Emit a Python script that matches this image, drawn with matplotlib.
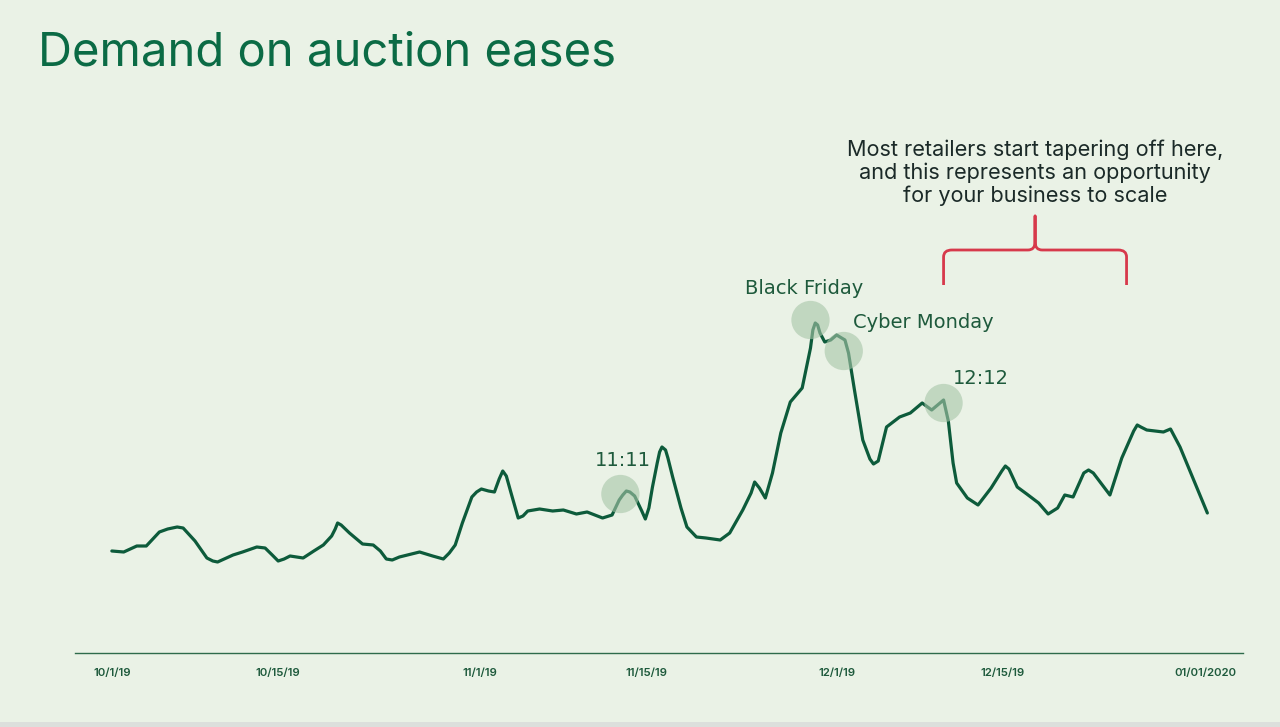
import matplotlib
matplotlib.use("Agg")
import matplotlib.pyplot as plt
from matplotlib.path import Path
from matplotlib.patches import PathPatch, Rectangle

# Demand index (days since 10/1/19, relative level)
days = [0, 1, 2.1, 2.9, 4, 4.7, 5.5, 6, 7, 8, 8.5, 8.9, 10.2, 11, 12.2, 12.9,
        13.5, 14, 14.5, 15, 16.1, 17, 17.8, 18.5, 18.8, 19, 19.3, 20, 21.1,
        22, 22.6, 23.1, 23.6, 24.2, 25.9, 27, 27.9, 28.4, 28.9, 29.5, 30.3,
        30.7, 31.1, 31.4, 31.7, 32.2, 32.6, 32.9, 33.2, 33.6, 34.2, 34.6, 35,
        36, 37.1, 38, 39.1, 40, 41.3, 42.1, 42.7, 43.0, 43.3, 43.6, 44, 44.6,
        44.9, 45.2, 45.5, 45.9, 46.1, 46.3, 46.6, 46.8, 47.2, 47.9, 48.4, 49.2,
        50, 51.2, 52, 53.1, 53.8, 54.1, 54.5, 55, 55.6, 56.3, 57.1, 58.1, 58.8,
        59.0, 59.2, 59.4, 59.6, 60, 60.5, 61, 61.7, 62, 62.5, 63.2, 63.8, 64.1,
        64.5, 65.2, 66.3, 67.2, 68.2, 69, 70, 70.4, 70.8, 71.1, 72, 72.9, 74,
        74.9, 75.2, 75.5, 76.2, 77, 78, 78.8, 79.6, 80.2, 80.9, 81.8, 82.2, 82.6,
        84, 85, 86.0, 86.3, 86.6, 87.1, 88.5, 89.1, 89.9, 90.6, 91.3, 92.2]
demand = [102, 101, 107, 107, 121, 124, 126, 125, 112, 95, 92, 91, 98, 101,
          106, 105, 98, 92, 94, 97, 95, 102, 108, 117, 124, 130, 128, 120, 109,
          108, 102, 94, 93, 96, 101, 97, 94, 100, 108, 130, 156, 161, 164, 163,
          162, 161, 174, 182, 177, 160, 135, 137, 142, 144, 142, 143, 139, 141,
          135, 138, 153, 158, 162, 161, 157, 142, 134, 145, 166, 190, 201, 206,
          203, 195, 176, 145, 126, 116, 115, 113, 120, 143, 160, 171, 165, 155,
          180, 220, 251, 265, 305, 323, 330, 328, 320, 311, 313, 318, 313, 300,
          263, 213, 194, 189, 192, 226, 236, 240, 250, 243, 253, 232, 190, 170,
          155, 148, 165, 182, 187, 184, 166, 159, 150, 139, 145, 158, 156, 180,
          183, 180, 158, 195, 222, 228, 226, 223, 221, 224, 206, 186, 166, 140]

tick_days = [0, 14, 31, 45, 61, 75, 92]
tick_labels = ["10/1/19", "10/15/19", "11/1/19", "11/15/19", "12/1/19", "12/15/19", "01/01/2020"]

# highlighted events
event_days = [42.8, 58.8, 61.6, 70.0]
event_levels = [159, 333, 302, 250]
event_names = ["11:11", "Black Friday", "Cyber Monday", "12:12"]

bg = "#EAF2E6"
dark_green = "#0D5B3B"
text_green = "#1E5A3C"

fig = plt.figure(figsize=(12.8, 7.27), dpi=100, facecolor=bg)
ax = fig.add_axes([75 / 1280, 1 - 653 / 727, (1243 - 75) / 1280, 553 / 727])
ax.set_facecolor(bg)

ax.plot(days, demand, color=dark_green, lw=2.3, solid_capstyle="round",
        solid_joinstyle="round", zorder=2)
ax.scatter(event_days, event_levels, s=760, color="#A7C5A8", alpha=0.6,
           edgecolor="none", zorder=3)

# event labels
lab = dict(va="center", fontsize=14, color=text_green, family="DejaVu Sans")
ax.text(43.0, 193, event_names[0], ha="center", **lab)
ax.text(58.3, 364, event_names[1], ha="center", **lab)
ax.text(62.4, 330, event_names[2], ha="left", **lab)
ax.text(70.8, 274, event_names[3], ha="left", **lab)

ax.set_xlim(-3.1, 95.2)
ax.set_ylim(0, 553)
ax.set_xticks(tick_days)
ax.set_xticklabels(tick_labels, fontsize=8.2, color=text_green, fontweight="semibold",
                   family="Inter")
ax.tick_params(axis="x", length=0, pad=11)
ax.set_yticks([])
for side in ["top", "right", "left"]:
    ax.spines[side].set_visible(False)
ax.spines["bottom"].set_color("#2E6B4B")
ax.spines["bottom"].set_linewidth(1.0)

# curly brace over the tapering-off period
x0, x1, xm = 70.0, 85.4, 77.7
yb, yh, yt = 368, 403, 437
verts = [(x0, yb), (x0, yh - 7), (x0, yh), (x0 + 0.7, yh),
         (xm - 0.6, yh), (xm, yh), (xm, yh + 8), (xm, yt),
         (xm, yh + 8), (xm, yh), (xm + 0.6, yh),
         (x1 - 0.7, yh), (x1, yh), (x1, yh - 7), (x1, yb)]
codes = [Path.MOVETO, Path.LINETO, Path.CURVE3, Path.CURVE3,
         Path.LINETO, Path.CURVE3, Path.CURVE3, Path.LINETO,
         Path.LINETO, Path.CURVE3, Path.CURVE3,
         Path.LINETO, Path.CURVE3, Path.CURVE3, Path.LINETO]
ax.add_patch(PathPatch(Path(verts, codes), fill=False, edgecolor="#D7394B",
                       lw=2.0, capstyle="butt", joinstyle="round", clip_on=False))

ax.text(77.7, 480, "Most retailers start tapering off here,\nand this represents an opportunity\nfor your business to scale",
        ha="center", va="center", fontsize=15.6, color="#1B2A28", family="Inter",
        linespacing=1.15)

fig.text(38 / 1280, 1 - 54 / 727, "Demand on auction eases", ha="left", va="center",
         fontsize=34, color="#0B6B45", family="Inter")

# thin grey strip at the bottom of the slide
fig.patches.append(Rectangle((0, 0), 1, 5 / 727, transform=fig.transFigure,
                             facecolor="#DCDFDC", edgecolor="none"))

fig.savefig("out.png", dpi=100, facecolor=bg)
